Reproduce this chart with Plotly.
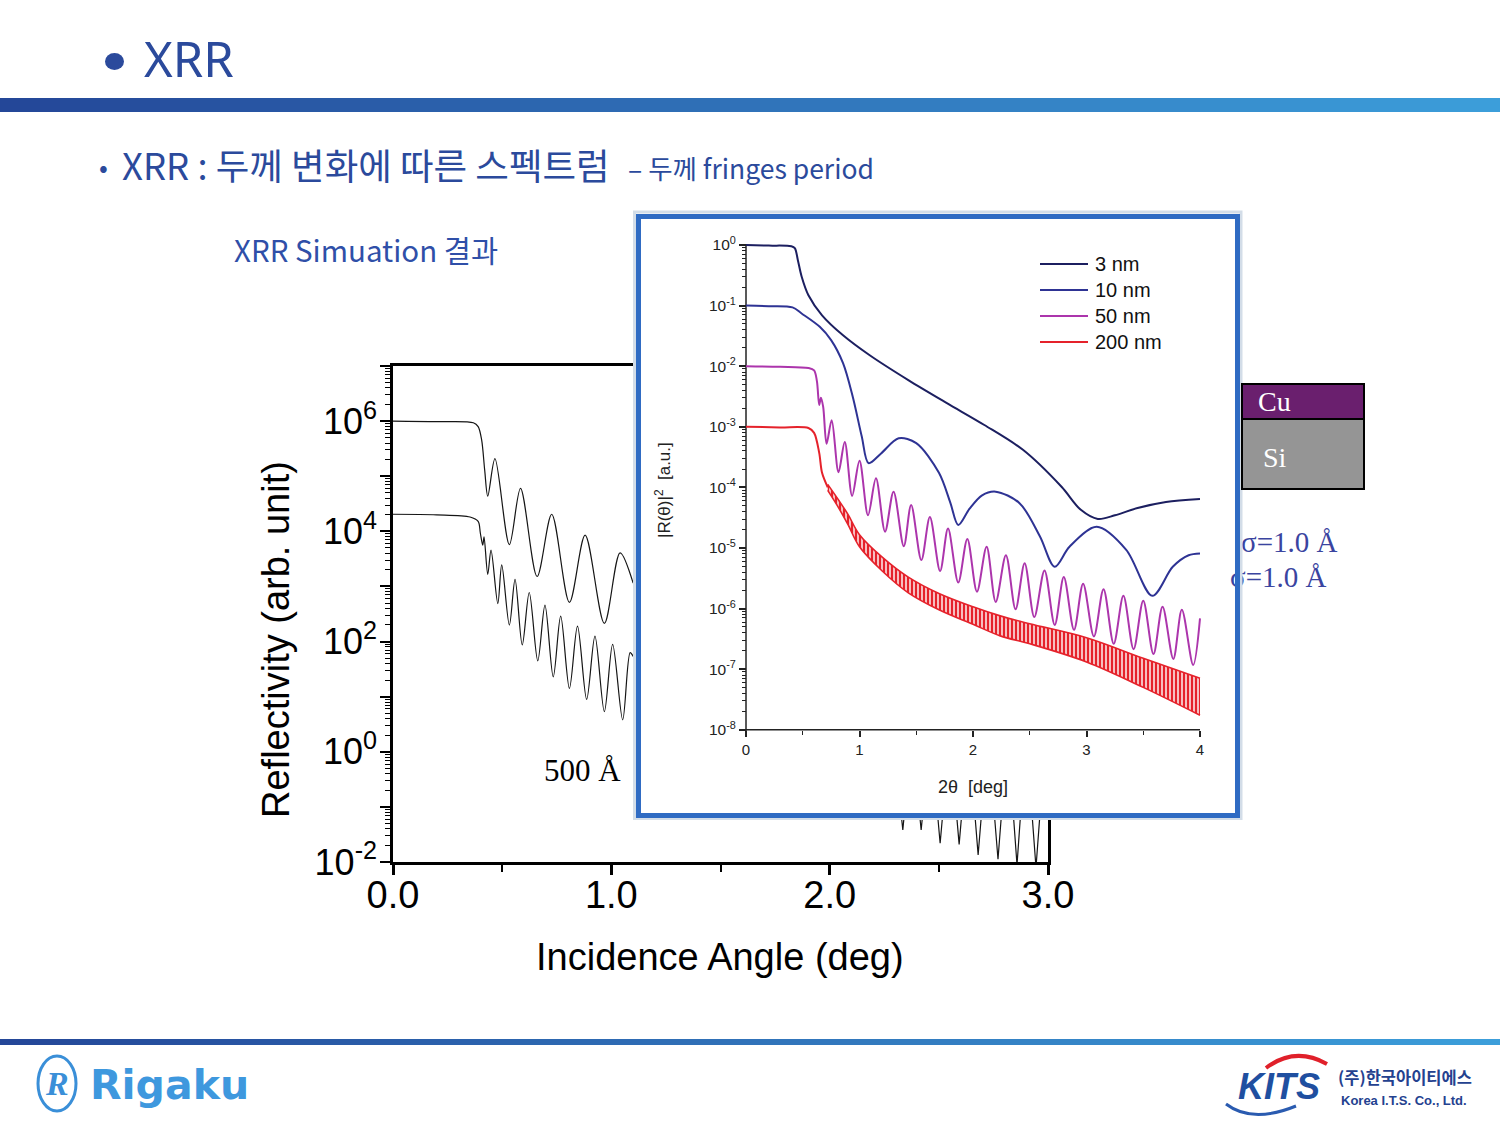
import plotly.graph_objects as go

W, H = 1500, 1125


def fx(p):
    return p / W


def fy(p):
    return 1 - p / H


# ---------------- data ----------------
# Background chart: incidence angle (deg) and log10(reflectivity)
main_upper_angle = [0, 0.20, 0.368, 0.39, 0.406, 0.42, 0.434, 0.467, 0.533, 0.584, 0.660,
                    0.727, 0.808, 0.88, 0.968, 1.04, 1.10]
main_upper_exp = [6.0, 5.99, 5.97, 5.90, 5.66, 5.11, 4.64, 5.32, 3.76, 4.78, 3.18,
                  4.31, 2.71, 3.93, 2.33, 3.61, 3.06]

main_lower_angle = [0, 0.20, 0.353, 0.39, 0.40, 0.411, 0.417, 0.434, 0.449, 0.48, 0.498,
                    0.533, 0.559, 0.592, 0.624, 0.663, 0.696, 0.734, 0.768, 0.808, 0.845,
                    0.887, 0.925, 0.968, 1.006, 1.052, 1.086, 1.10]
main_lower_exp = [4.31, 4.30, 4.26, 4.18, 3.97, 3.75, 3.90, 3.22, 3.66, 2.69, 3.39,
                  2.30, 3.13, 1.94, 2.89, 1.65, 2.66, 1.36, 2.46, 1.15, 2.28,
                  0.95, 2.10, 0.73, 1.95, 0.58, 1.80, 1.73]

# visible deep minima of the lower curve below the inset
main_tail_angle = [2.29, 2.335, 2.377, 2.419, 2.462, 2.506, 2.55, 2.593, 2.636, 2.680,
                   2.725, 2.771, 2.815, 2.858, 2.90, 2.945, 2.99]
main_tail_exp = [0.3, -1.42, 0.3, -1.42, 0.3, -1.66, 0.3, -1.68, 0.3, -1.87,
                 0.3, -1.95, 0.3, -2.05, 0.3, -2.10, 0.3]

# Inset: 2theta (deg) and log10(|R|^2)
r3_angle = [0, 0.20, 0.40, 0.43, 0.457, 0.49, 0.55, 0.67, 0.855, 1.09, 1.43, 1.77, 2.10,
            2.44, 2.78, 2.95, 3.10, 3.25, 3.45, 3.70, 4.0]
r3_exp = [0, -0.01, -0.02, -0.05, -0.25, -0.52, -0.83, -1.16, -1.49, -1.82, -2.23, -2.61,
          -2.97, -3.38, -3.99, -4.37, -4.52, -4.46, -4.34, -4.24, -4.19]

r10_angle = [0, 0.20, 0.41, 0.49, 0.65, 0.75, 0.855, 0.94, 1.02, 1.08, 1.19, 1.345, 1.50,
             1.70, 1.80, 1.87, 1.97, 2.08, 2.20, 2.41, 2.59, 2.72, 2.85, 3.09, 3.35, 3.58,
             3.76, 3.90, 4.0]
r10_exp = [-1.0, -1.01, -1.03, -1.13, -1.35, -1.57, -1.95, -2.50, -3.16, -3.60, -3.44,
           -3.19, -3.27, -3.76, -4.25, -4.62, -4.35, -4.13, -4.07, -4.26, -4.81, -5.31,
           -4.98, -4.65, -5.03, -5.79, -5.31, -5.12, -5.09]

r50_angle = [0, 0.30, 0.55, 0.60, 0.625, 0.645, 0.66, 0.68, 0.71, 0.755, 0.815, 0.87,
             0.935, 1.0, 1.075, 1.145, 1.225, 1.30, 1.39, 1.455, 1.545, 1.62, 1.71, 1.78,
             1.87, 1.95, 2.035, 2.12, 2.20, 2.29, 2.375, 2.455, 2.54, 2.63, 2.72, 2.80,
             2.89, 2.97, 3.065, 3.15, 3.24, 3.325, 3.415, 3.50, 3.59, 3.67, 3.765, 3.84,
             3.94, 4.0]
r50_exp = [-2.0, -2.01, -2.03, -2.07, -2.25, -2.64, -2.52, -2.67, -3.28, -2.89, -3.75,
           -3.25, -4.14, -3.56, -4.46, -3.85, -4.73, -4.07, -4.97, -4.29, -5.20, -4.49,
           -5.38, -4.68, -5.57, -4.85, -5.72, -4.98, -5.89, -5.12, -6.01, -5.25, -6.14,
           -5.37, -6.27, -5.48, -6.35, -5.59, -6.46, -5.68, -6.58, -5.79, -6.67, -5.87,
           -6.75, -5.97, -6.83, -6.02, -6.93, -6.16]

r200_angle = [0, 0.30, 0.55, 0.60, 0.645, 0.67, 0.72]
r200_exp = [-3.0, -3.01, -3.02, -3.10, -3.43, -3.76, -4.0]
# dense fringes of the 200 nm film: upper / lower envelope
r200_band_angle = [0.72, 0.82, 0.90, 1.0, 1.2, 1.43, 1.7, 2.0, 2.24, 2.5, 3.0, 3.5, 4.0]
r200_upper_exp = [-3.95, -4.22, -4.45, -4.78, -5.15, -5.48, -5.75, -5.97, -6.12, -6.25,
                  -6.48, -6.82, -7.15]
r200_lower_exp = [-4.05, -4.35, -4.62, -4.98, -5.38, -5.74, -6.02, -6.26, -6.45, -6.58,
                  -6.88, -7.30, -7.76]

legend_labels = ["3 nm", "10 nm", "50 nm", "200 nm"]
main_x_ticks = [0, 1, 2, 3]
main_x_ticktext = ["0.0", "1.0", "2.0", "3.0"]
main_y_decades = list(range(-2, 8))
main_y_labels = ["10<sup>-2</sup>", "", "10<sup>0</sup>", "", "10<sup>2</sup>", "",
                 "10<sup>4</sup>", "", "10<sup>6</sup>", ""]
inset_x_ticks = [0, 1, 2, 3, 4]
inset_y_decades = list(range(-8, 1))
inset_y_labels = ["10<sup>%d</sup>" % d for d in inset_y_decades]
layer_labels = ["σ=1.0 Å", "σ=1.0 Å"]


def vals(exps):
    return [10 ** e for e in exps]


# ---------------- colours / fonts ----------------
C3 = "#1c1f60"
C10 = "#2e3394"
C50 = "#ac35ac"
C200 = "#e5222b"
SLIDE_BLUE = "#2b4a9c"
SANS = "Liberation Sans, Arial, sans-serif"
SERIF = "Liberation Serif, Times New Roman, serif"
KR = "Noto Sans CJK KR, Noto Sans, sans-serif"

fig = go.Figure()

# ---------------- background chart ----------------
mline = dict(color="#151515", width=1.2, shape="spline", smoothing=0.9)
fig.add_trace(go.Scatter(x=main_upper_angle, y=vals(main_upper_exp), mode="lines",
                         line=mline, xaxis="x", yaxis="y", hoverinfo="skip"))
fig.add_trace(go.Scatter(x=main_lower_angle, y=vals(main_lower_exp), mode="lines",
                         line=mline, xaxis="x", yaxis="y", hoverinfo="skip"))
fig.add_trace(go.Scatter(x=main_tail_angle, y=vals(main_tail_exp), mode="lines",
                         line=dict(color="#151515", width=1.2), xaxis="x", yaxis="y",
                         hoverinfo="skip"))

# ---------------- inset chart ----------------
iline = dict(width=2, shape="spline", smoothing=0.9)
fig.add_trace(go.Scatter(x=r200_angle, y=vals(r200_exp), mode="lines",
                         line=dict(color=C200, **iline), xaxis="x2", yaxis="y2",
                         hoverinfo="skip"))
fig.add_trace(go.Scatter(x=r200_band_angle, y=vals(r200_upper_exp), mode="lines",
                         line=dict(color=C200, width=1.6, shape="spline"),
                         xaxis="x2", yaxis="y2", hoverinfo="skip"))
fig.add_trace(go.Scatter(x=r200_band_angle, y=vals(r200_lower_exp), mode="lines",
                         line=dict(color=C200, width=1.6, shape="spline"),
                         fill="tonexty", fillcolor="rgba(229,34,43,0.25)",
                         fillpattern=dict(shape="|", size=4, solidity=0.65,
                                          fgcolor=C200, bgcolor="rgba(255,255,255,0)"),
                         xaxis="x2", yaxis="y2", hoverinfo="skip"))
fig.add_trace(go.Scatter(x=r50_angle, y=vals(r50_exp), mode="lines",
                         line=dict(color=C50, **iline), xaxis="x2", yaxis="y2",
                         hoverinfo="skip"))
fig.add_trace(go.Scatter(x=r10_angle, y=vals(r10_exp), mode="lines",
                         line=dict(color=C10, **iline), xaxis="x2", yaxis="y2",
                         hoverinfo="skip"))
fig.add_trace(go.Scatter(x=r3_angle, y=vals(r3_exp), mode="lines",
                         line=dict(color=C3, **iline), xaxis="x2", yaxis="y2",
                         hoverinfo="skip"))

# roughness labels: own small overlay area (pixel coordinates) so that the inset
# frame can hide part of the second label, as in the slide
fig.add_trace(go.Scatter(x=[1241, 1230], y=[545, 580], mode="text", text=layer_labels,
                         textposition="middle right",
                         textfont=dict(family=SERIF, size=29, color="#3a44a0"),
                         xaxis="x3", yaxis="y3", hoverinfo="skip"))

main_minor_y = [k * 10.0 ** e for e in range(-2, 7) for k in range(2, 10)]
inset_minor_y = [k * 10.0 ** e for e in range(-8, 0) for k in range(2, 10)]

# inset geometry (pixels): x 0 -> 746, 4 -> 1200 ; 10^0 -> 245, 10^-8 -> 730
IX0, IX1, IY0, IY1 = 634, 1241, 211, 819
ix_range = [(IX0 - 746) / 113.5, (IX1 - 746) / 113.5]
iy_range = [-(IY1 - 245) / 60.6, -(IY0 - 245) / 60.6]

fig.update_layout(
    template="none",
    width=W, height=H, margin=dict(l=0, r=0, t=0, b=0, pad=0, autoexpand=False),
    paper_bgcolor="white", plot_bgcolor="white", showlegend=False,
    xaxis=dict(domain=[fx(393), fx(1048)], range=[0, 3], showgrid=False, zeroline=False,
               automargin=False,
               showline=True, linecolor="black", linewidth=2.5, mirror=True,
               tickvals=main_x_ticks, ticktext=main_x_ticktext, ticks="outside",
               ticklen=10, tickwidth=2.5, tickcolor="black", ticklabelstandoff=-12,
               tickfont=dict(family=SANS, size=38, color="black"),
               minor=dict(tickvals=[0.5, 1.5, 2.5], ticks="outside", ticklen=7,
                          tickwidth=2, tickcolor="black"),
               anchor="y"),
    yaxis=dict(domain=[fy(862), fy(366)], type="log", range=[-2, 7], showgrid=False,
               zeroline=False, showline=True, linecolor="black", linewidth=2.5,
               automargin=False,
               mirror=True, tickvals=[10.0 ** d for d in main_y_decades],
               ticktext=main_y_labels, ticks="outside", ticklen=10, tickwidth=2,
               tickcolor="black", tickfont=dict(family=SANS, size=36, color="black"),
               ticklabelstandoff=-4,
               minor=dict(tickvals=main_minor_y, ticks="outside", ticklen=5,
                          tickwidth=1.3, tickcolor="black"),
               anchor="x"),
    xaxis2=dict(domain=[fx(IX0), fx(IX1)], range=ix_range, showgrid=False, zeroline=False,
                showline=False, anchor="free", position=fy(730), automargin=False,
                tickvals=inset_x_ticks, ticks="outside", ticklen=6, tickwidth=1.5,
                tickcolor="#222", tickfont=dict(family=SANS, size=15, color="#222"),
                minor=dict(tickvals=[0.5, 1.5, 2.5, 3.5], ticks="outside", ticklen=4,
                           tickwidth=1.2, tickcolor="#222")),
    yaxis2=dict(domain=[fy(IY1), fy(IY0)], type="log", range=iy_range, showgrid=False,
                zeroline=False, showline=False, anchor="free", position=fx(746),
                automargin=False,
                tickvals=[10.0 ** d for d in inset_y_decades], ticktext=inset_y_labels,
                ticks="outside", ticklen=7, tickwidth=1.5, tickcolor="#222",
                tickfont=dict(family=SANS, size=15.5, color="#222"),
                minor=dict(tickvals=inset_minor_y, ticks="outside", ticklen=4,
                           tickwidth=1, tickcolor="#222")),
    xaxis3=dict(domain=[fx(1228), fx(1420)], range=[1228, 1420], visible=False,
                anchor="y3", automargin=False),
    yaxis3=dict(domain=[fy(600), fy(522)], range=[600, 522], visible=False,
                anchor="x3", automargin=False),
)

shapes = []
# gradient header / footer bars
N = 75


def grad(i):
    t = i / (N - 1)
    c0, c1 = (36, 71, 152), (60, 158, 218)
    return "rgb(%d,%d,%d)" % tuple(round(a + (b - a) * t) for a, b in zip(c0, c1))


for (ya, yb) in [(98, 112), (1039, 1045)]:
    for i in range(N):
        shapes.append(dict(type="rect", xref="paper", yref="paper",
                           x0=fx(i * W / N), x1=fx((i + 1) * W / N + 0.6),
                           y0=fy(yb), y1=fy(ya), line=dict(width=0),
                           fillcolor=grad(i), layer="below"))

# title bullet
shapes.append(dict(type="circle", xref="paper", yref="paper", x0=fx(105), x1=fx(124),
                   y0=fy(70), y1=fy(53), fillcolor=SLIDE_BLUE, line=dict(width=0)))

# inset axis lines (drawn in the inset's own coordinates)
shapes.append(dict(type="line", xref="x2", yref="y2", x0=0, x1=0, y0=10 ** -8.08, y1=1,
                   line=dict(color="#222", width=1.5), layer="below"))
shapes.append(dict(type="line", xref="x2", yref="y2", x0=0, x1=4, y0=1e-8, y1=1e-8,
                   line=dict(color="#222", width=1.5), layer="below"))

# inset frame
shapes.append(dict(type="rect", xref="paper", yref="paper", x0=fx(634.5), x1=fx(1241),
                   y0=fy(818.5), y1=fy(212), line=dict(color="#d3dde8", width=3),
                   layer="above"))
shapes.append(dict(type="rect", xref="paper", yref="paper", x0=fx(638.5), x1=fx(1237.5),
                   y0=fy(815.5), y1=fy(216.5), line=dict(color="#2f6bc3", width=5),
                   layer="above"))

# inset legend samples
leg_colors = [C3, C10, C50, C200]
leg_y = [264, 290, 316, 342]
for c, yy in zip(leg_colors, leg_y):
    shapes.append(dict(type="line", xref="paper", yref="paper", x0=fx(1040), x1=fx(1088),
                       y0=fy(yy), y1=fy(yy), line=dict(color=c, width=2)))

# Cu / Si stack
shapes.append(dict(type="rect", xref="paper", yref="paper", x0=fx(1242), x1=fx(1364),
                   y0=fy(419), y1=fy(384), fillcolor="#6a1f6e",
                   line=dict(color="black", width=2)))
shapes.append(dict(type="rect", xref="paper", yref="paper", x0=fx(1242), x1=fx(1364),
                   y0=fy(489), y1=fy(419), fillcolor="#959595",
                   line=dict(color="black", width=2)))

# logos
shapes.append(dict(type="circle", xref="paper", yref="paper", x0=fx(38), x1=fx(76),
                   y0=fy(1111), y1=fy(1056), line=dict(color="#3a8fd8", width=3)))
shapes.append(dict(type="path", xref="paper", yref="paper",
                   path="M %f %f Q %f %f %f %f" % (fx(1266), fy(1068), fx(1295), fy(1046),
                                                   fx(1327), fy(1064)),
                   line=dict(color="#e0202a", width=4)))
shapes.append(dict(type="path", xref="paper", yref="paper",
                   path="M %f %f Q %f %f %f %f" % (fx(1226), fy(1104), fx(1252), fy(1124),
                                                   fx(1296), fy(1106)),
                   line=dict(color="#2a5bb0", width=3)))

fig.update_layout(shapes=shapes)

ann = []


def text(x, y, s, size, color, family, xanchor="left", yanchor="middle", angle=0,
         bold=False, italic=False):
    f = dict(size=size, color=color, family=family)
    if bold:
        f["weight"] = "bold"
    if italic:
        f["style"] = "italic"
    ann.append(dict(x=fx(x), y=fy(y), xref="paper", yref="paper", text=s,
                    showarrow=False, xanchor=xanchor, yanchor=yanchor, font=f,
                    textangle=angle))


# slide texts
text(142, 58, "XRR", 49, SLIDE_BLUE, "Noto Sans, " + KR)
text(97, 165, "•", 26, SLIDE_BLUE, KR)
text(120, 164, "XRR : 두께 변화에 따른 스펙트럼", 36.5, SLIDE_BLUE, KR)
text(626, 168, "– 두께 fringes period", 26.5, SLIDE_BLUE, KR)
text(232, 249, "XRR Simuation 결과", 29.5, "#2f4fa8", KR)

# background chart texts
text(276, 640, "Reflectivity (arb. unit)", 38, "black", SANS, xanchor="center",
     angle=-90)
text(720, 957, "Incidence Angle (deg)", 38, "black", SANS, xanchor="center")
text(582, 770, "500 Å", 31, "black", SERIF, xanchor="center")

# inset texts
text(663, 490, "|R(θ)|<sup>2</sup>  [a.u.]", 17, "#222", SANS, xanchor="center",
     angle=-90)
text(973, 787, "2θ  [deg]", 18, "#222", SANS, xanchor="center")
for lab, yy in zip(legend_labels, leg_y):
    text(1093, yy, lab, 20, "#111", SANS)

# stack labels
text(1256, 402, "Cu", 28, "white", SERIF)
text(1261, 457, "Si", 28, "white", SERIF)

# logos
text(57, 1083, "R", 34, "#3a8fd8", SERIF, xanchor="center", bold=True, italic=True)
text(88, 1085, "Rigaku", 41, "#3e98de", "DejaVu Sans, " + SANS, bold=True)
text(1236, 1086, "KITS", 36, "#1f4fa0", SANS, bold=True, italic=True)
text(1336, 1077, "(주)한국아이티에스", 16.5, "#24418f", KR, bold=True)
text(1339, 1100, "Korea I.T.S. Co., Ltd.", 13, "#24418f", SANS, bold=True)

fig.update_layout(annotations=ann)

fig.write_html("out.html")
